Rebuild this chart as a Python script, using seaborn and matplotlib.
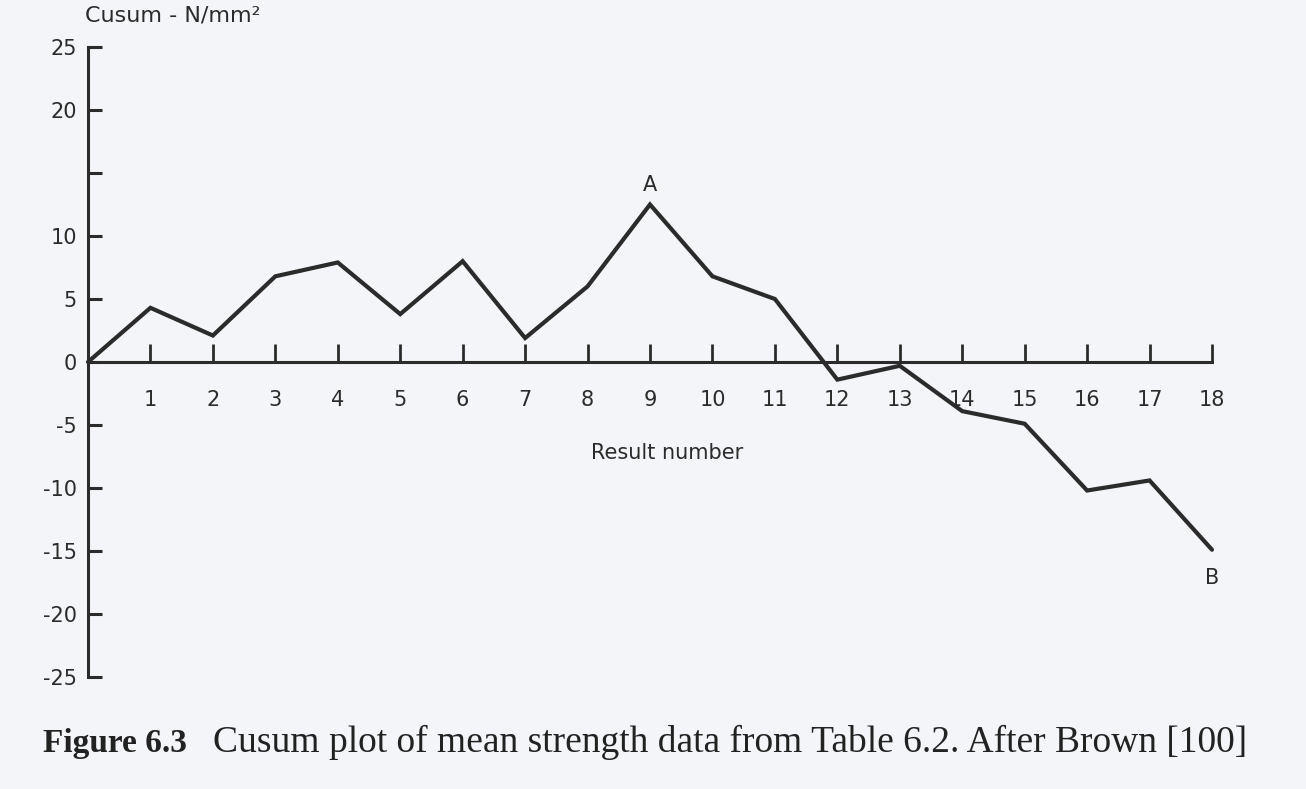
import matplotlib
matplotlib.use("Agg")
import matplotlib.pyplot as plt
import pandas as pd
import seaborn as sns

# cusum, relative to the drawn zero line
RESULT_NUMBER = list(range(0, 19))
CUSUM = [0, 4.3, 2.1, 6.8, 7.9, 3.8, 8.0, 1.9, 6.0, 12.5, 6.8, 5.0,
         -1.4, -0.3, -3.9, -4.9, -10.2, -9.4, -14.9]
Y_TICKS = [25, 20, 15, 10, 5, 0, -5, -10, -15, -20, -25]
Y_TICK_LABELS = ["25", "20", "", "10", "5", "0", "-5", "-10", "-15", "-20", "-25"]
X_TICKS = list(range(1, 19))

PAPER = "#f3f5f8"
INK = "#2b2b2b"


def main() -> None:
    sns.set_style("white")
    plt.rcParams["font.family"] = ["DejaVu Sans"]

    df = pd.DataFrame({"result": RESULT_NUMBER, "cusum": CUSUM})

    fig = plt.figure(figsize=(13.06, 7.89), dpi=100, facecolor=PAPER)
    ax = fig.add_axes([88 / 1306, 1 - 677 / 789, 1124 / 1306, 630 / 789])
    ax.set_facecolor(PAPER)

    sns.lineplot(data=df, x="result", y="cusum", ax=ax, color=INK,
                 linewidth=3.0, clip_on=False, solid_joinstyle="miter")

    ax.set_xlim(0, 18)
    ax.set_ylim(-25, 25)

    for side in ["top", "right"]:
        ax.spines[side].set_visible(False)
    ax.spines["bottom"].set_position(("data", 0))
    for side in ["left", "bottom"]:
        ax.spines[side].set_color(INK)
        ax.spines[side].set_linewidth(2.2)

    ax.set_yticks(Y_TICKS)
    ax.set_yticklabels(Y_TICK_LABELS)
    ax.set_xticks(X_TICKS)
    ax.set_xticklabels([str(v) for v in X_TICKS])
    ax.tick_params(axis="y", left=True, direction="in", length=10, width=2.2,
                   pad=8, labelsize=15, colors=INK)
    ax.tick_params(axis="x", bottom=True, direction="in", length=13, width=2.0,
                   pad=20, labelsize=15, colors=INK)

    ax.set_xlabel("Result number", fontsize=15, color=INK, va="top")
    ax.xaxis.set_label_coords(0.515, 0.372)
    ax.set_ylabel("Cusum - N/mm²", fontsize=16, color=INK, rotation=0,
                  ha="left", va="baseline")
    ax.yaxis.set_label_coords(-0.003, 1.04)

    ax.annotate("A", xy=(9, CUSUM[9]), xytext=(0, 14), textcoords="offset points",
                ha="center", va="center", fontsize=15, color=INK)
    ax.annotate("B", xy=(18, CUSUM[18]), xytext=(0, -20), textcoords="offset points",
                ha="center", va="center", fontsize=15, color=INK)

    fig.text(43 / 1306, 1 - 752 / 789, "Figure 6.3", family="Liberation Serif",
             fontsize=24, fontweight="bold", color="#222222", va="baseline")
    fig.text(213 / 1306, 1 - 752 / 789,
             "Cusum plot of mean strength data from Table 6.2. After Brown [100]",
             family="Liberation Serif", fontsize=27, color="#222222", va="baseline")

    fig.savefig("out.png", dpi=100, facecolor=PAPER)
    plt.close(fig)


if __name__ == "__main__":
    main()
